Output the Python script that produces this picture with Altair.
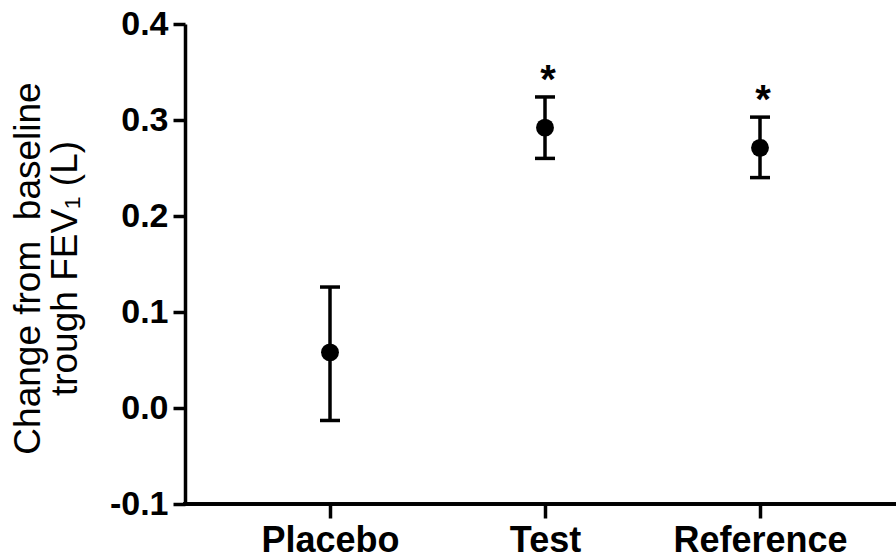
import altair as alt
import pandas as pd

groups = ["Placebo", "Test", "Reference"]
means = [0.058, 0.292, 0.271]
lower = [-0.013, 0.260, 0.240]
upper = [0.126, 0.324, 0.303]
stars = ["", "*", "*"]

df = pd.DataFrame({"group": groups, "mean": means, "lower": lower,
                   "upper": upper, "star": stars})

FONT = "Liberation Sans"

x = alt.X("group:N", sort=groups,
          scale=alt.Scale(type="point", range=[145, 575], padding=0),
          axis=alt.Axis(title=None, labelAngle=0, labelFont=FONT,
                        labelFontSize=36, labelFontWeight="bold",
                        labelColor="black", labelPadding=5,
                        tickSize=14, tickWidth=3.5, tickColor="black",
                        domain=False, labelBaseline="top"))

yscale = alt.Scale(domain=[-0.1, 0.4], nice=False, zero=False)
yaxis = alt.Axis(title=["Change from\u00a0 baseline", "trough FEV\u2081 (L)"],
                 values=[-0.1, 0.0, 0.1, 0.2, 0.3, 0.4], format=".1f",
                 labelExpr="replace(datum.label, '\u2212', '-')",
                 labelFont=FONT, labelFontSize=34, labelFontWeight="bold",
                 labelColor="black", labelPadding=5,
                 tickSize=12, tickWidth=3.5, tickColor="black",
                 domainWidth=3.5, domainColor="black", grid=False,
                 titleFont=FONT, titleFontSize=37, titleFontWeight="normal",
                 titleColor="black", titleAngle=-90, titleX=-175,
                 titleY=244, titleAlign="center", titleBaseline="top",
                 titleLineHeight=37)

base = alt.Chart(df)

xline = base.mark_rule(color="black", strokeWidth=3.5).encode(
    x=alt.value(-1.75), x2=alt.value(740), y=alt.value(480))
rules = base.mark_rule(color="black", strokeWidth=3.5).encode(
    x=x,
    y=alt.Y("lower:Q", scale=yscale, axis=yaxis),
    y2="upper:Q",
)
caps_lo = base.mark_tick(color="black", size=20, thickness=3.5, opacity=1).encode(
    x=x, y=alt.Y("lower:Q", scale=yscale))
caps_hi = base.mark_tick(color="black", size=20, thickness=3.5, opacity=1).encode(
    x=x, y=alt.Y("upper:Q", scale=yscale))
points = base.mark_point(filled=True, color="black", size=320, opacity=1).encode(
    x=x, y=alt.Y("mean:Q", scale=yscale))
asts = base.mark_text(font=FONT, fontSize=40, fontWeight="bold", color="black",
                      baseline="alphabetic", dx=3, dy=-4).encode(
    x=x, y=alt.Y("upper:Q", scale=yscale), text="star:N")

chart = alt.layer(rules, caps_lo, caps_hi, points, asts, xline).properties(
    width=711, height=480,
    padding={"left": 185, "top": 24, "right": 0, "bottom": 56},
    autosize=alt.AutoSizeParams(type="none"),
    background="white",
).configure_view(stroke=None)

chart.save("out.html", embed_options={"renderer": "svg", "actions": False})
